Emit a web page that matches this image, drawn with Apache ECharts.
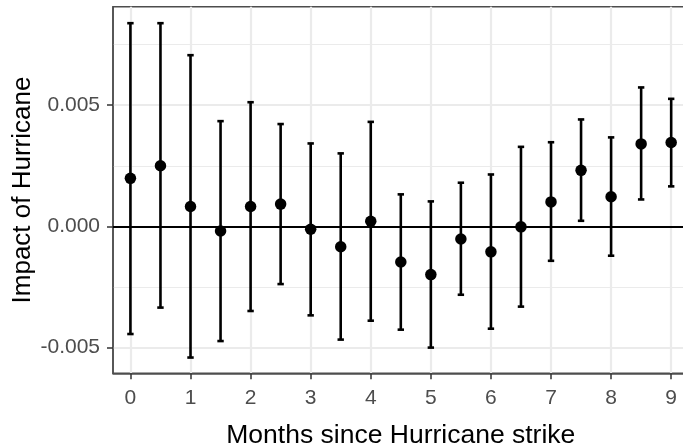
<!DOCTYPE html>
<html>
<head>
<meta charset="utf-8">
<script src="https://cdn.jsdelivr.net/npm/echarts@6/dist/echarts.min.js"></script>
<style>
html,body{margin:0;padding:0;background:#fff;}
#chart{width:683px;height:448px;}
</style>
</head>
<body>
<div id="chart"></div>
<script>
// Months since hurricane strike
const months = [0, 0.5, 1, 1.5, 2, 2.5, 3, 3.5, 4, 4.5, 5, 5.5, 6, 6.5, 7, 7.5, 8, 8.5, 9];
// Point estimates
const estimates = [0.00198, 0.00250, 0.00082, -0.00019, 0.00082, 0.00092, -0.00012, -0.00084, 0.00021, -0.00147,
                   -0.00199, -0.00052, -0.00105, -0.00002, 0.00101, 0.00231, 0.00122, 0.00340, 0.00346];
// Confidence interval bounds
const upper = [0.00838, 0.00838, 0.00706, 0.00434, 0.00512, 0.00422, 0.00342, 0.00301, 0.00431, 0.00132,
               0.00103, 0.00180, 0.00214, 0.00328, 0.00347, 0.00441, 0.00367, 0.00573, 0.00526];
const lower = [-0.00444, -0.00335, -0.00541, -0.00473, -0.00349, -0.00238, -0.00367, -0.00467, -0.00389, -0.00426,
               -0.00500, -0.00282, -0.00422, -0.00331, -0.00142, 0.00023, -0.00121, 0.00111, 0.00165];
// Axis ticks
const xTicks = [0, 1, 2, 3, 4, 5, 6, 7, 8, 9];
const yTicks = [-0.005, 0, 0.005];
const yMinorTicks = [-0.0025, 0.0025, 0.0075];

const FONT = 'Liberation Sans, Arial, Helvetica, sans-serif';
const GRID = '#ebebeb';
const BORDER = '#4d4d4d';
const yMin = -0.00606, yMax = 0.00906;

const chart = echarts.init(document.getElementById('chart'), null, {renderer: 'canvas'});
chart.setOption({
  animation: false,
  backgroundColor: '#ffffff',
  grid: {
    left: 113, right: -5.6, top: 6.7, bottom: 74.7,
    containLabel: false, outerBoundsMode: 'none',
    show: true, borderColor: BORDER, borderWidth: 1.5, backgroundColor: 'transparent'
  },
  xAxis: {
    type: 'value', min: -0.29, max: 9.29,
    name: 'Months since Hurricane strike', nameLocation: 'middle', nameGap: 49, nameMoveOverlap: false,
    nameTextStyle: {fontFamily: FONT, fontSize: 26.5, color: '#000'},
    axisLine: {show: true, onZero: false, lineStyle: {color: BORDER, width: 1.5}},
    axisTick: {show: true, inside: false, customValues: xTicks, length: 6, lineStyle: {color: '#333', width: 1.5}},
    axisLabel: {customValues: xTicks, margin: 14, fontFamily: FONT, fontSize: 21, color: '#4d4d4d'},
    splitLine: {show: true, lineStyle: {color: GRID, width: 2.2}}
  },
  yAxis: [{
    type: 'value', min: yMin, max: yMax,
    name: 'Impact of Hurricane', nameLocation: 'middle', nameGap: 77, nameRotate: 90, nameMoveOverlap: false,
    nameTextStyle: {fontFamily: FONT, fontSize: 26, color: '#000'},
    axisLine: {show: true, onZero: false, lineStyle: {color: BORDER, width: 1.5}},
    axisTick: {show: true, inside: false, customValues: yTicks, length: 6, lineStyle: {color: '#333', width: 1.5}},
    axisLabel: {customValues: yTicks, margin: 13, fontFamily: FONT, fontSize: 21, color: '#4d4d4d',
      formatter: v => v.toFixed(3)},
    splitLine: {show: true, lineStyle: {color: GRID, width: 2.2}}
  }, {
    type: 'value', min: yMin, max: yMax, position: 'left',
    axisLine: {show: false},
    axisTick: {show: false, customValues: yMinorTicks},
    axisLabel: {show: false, customValues: yMinorTicks},
    splitLine: {show: true, lineStyle: {color: GRID, width: 1.2}}
  }],
  series: [{
    type: 'custom',
    yAxisIndex: 0,
    data: months.map((m, i) => [m, lower[i], upper[i]]),
    encode: {x: 0, y: [1, 2]},
    z: 3,
    markLine: {
      silent: true, symbol: ['none', 'none'], label: {show: false},
      lineStyle: {color: '#000', width: 2, type: 'solid'},
      data: [{yAxis: 0}]
    },
    renderItem: function (params, api) {
      const x = api.value(0), lo = api.value(1), hi = api.value(2);
      const pt = api.coord([x, hi]);
      const pb = api.coord([x, lo]);
      const hw = 3.2;
      const st = {stroke: '#000', lineWidth: 2.6, fill: null};
      return {
        type: 'group',
        children: [
          {type: 'line', shape: {x1: pt[0], y1: pt[1], x2: pb[0], y2: pb[1]}, style: st},
          {type: 'line', shape: {x1: pt[0] - hw, y1: pt[1], x2: pt[0] + hw, y2: pt[1]}, style: st},
          {type: 'line', shape: {x1: pb[0] - hw, y1: pb[1], x2: pb[0] + hw, y2: pb[1]}, style: st}
        ]
      };
    }
  }, {
    type: 'scatter',
    yAxisIndex: 0,
    z: 4,
    symbol: 'circle',
    symbolSize: 11.5,
    itemStyle: {color: '#000', opacity: 1},
    data: months.map((m, i) => [m, estimates[i]])
  }]
});
</script>
</body>
</html>
